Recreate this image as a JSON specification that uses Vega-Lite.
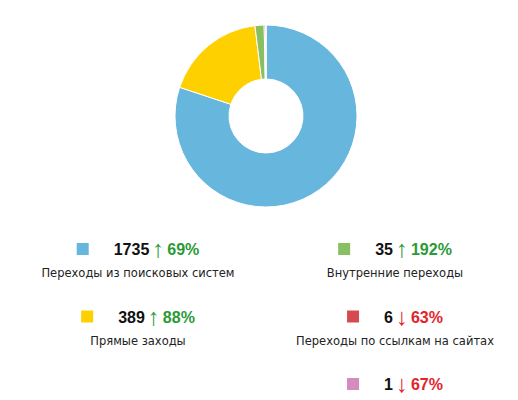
{
  "$schema": "https://vega.github.io/schema/vega-lite/v6.json",
  "padding": {"left": 14, "top": 0, "right": 0, "bottom": 0},
  "spacing": 0,
  "background": "#ffffff",
  "config": {"view": {"stroke": null}},
  "datasets": {
    "src": [
      {"name": "Переходы из поисковых систем", "value": 1735, "pct": "69%", "arrow": "↑", "trend": "up", "col": "L", "row": 1, "order": 1},
      {"name": "Прямые заходы", "value": 389, "pct": "88%", "arrow": "↑", "trend": "up", "col": "L", "row": 2, "order": 2},
      {"name": "Внутренние переходы", "value": 35, "pct": "192%", "arrow": "↑", "trend": "up", "col": "R", "row": 1, "order": 3},
      {"name": "Переходы по ссылкам на сайтах", "value": 6, "pct": "63%", "arrow": "↓", "trend": "down", "col": "R", "row": 2, "order": 4},
      {"name": "Прочее", "value": 1, "pct": "67%", "arrow": "↓", "trend": "down", "col": "R", "row": 3, "order": 5}
    ]
  },
  "vconcat": [
    {
      "width": 504,
      "height": 232,
      "data": {"name": "src"},
      "mark": {"type": "arc", "outerRadius": 91, "innerRadius": 37, "stroke": "#ffffff", "strokeWidth": 1},
      "encoding": {
        "theta": {"field": "value", "type": "quantitative", "stack": true},
        "order": {"field": "order", "type": "quantitative", "sort": "ascending"},
        "color": {
          "field": "name", "type": "nominal", "legend": null,
          "scale": {
            "domain": ["Переходы из поисковых систем", "Прямые заходы", "Внутренние переходы", "Переходы по ссылкам на сайтах", "Прочее"],
            "range": ["#66b6de", "#fed000", "#87bf62", "#d44a4e", "#d68bbd"]
          }
        }
      }
    },
    {
      "width": 504,
      "height": 168,
      "data": {"name": "src"},
      "transform": [
        {"calculate": "8.9*length(toString(datum.value))", "as": "numW"},
        {"calculate": "8.9*(length(datum.pct)-1)+14.2", "as": "pctW"},
        {"calculate": "(37 + datum.numW - datum.pctW)/2", "as": "ax"},
        {"calculate": "datum.ax - 40 - datum.numW", "as": "sqx"},
        {"calculate": "datum.ax - 9", "as": "nx"},
        {"calculate": "datum.ax + 9", "as": "px"}
      ],
      "encoding": {
        "x": {"field": "col", "type": "nominal", "axis": null, "scale": {"type": "point", "padding": 0, "domain": ["L", "R"], "range": [124, 381]}},
        "y": {"field": "row", "type": "ordinal", "axis": null, "scale": {"type": "point", "padding": 0, "domain": [1, 2, 3], "range": [17, 152]}}
      },
      "layer": [
        {
          "mark": {"type": "square", "size": 144, "filled": true, "opacity": 1},
          "encoding": {
            "xOffset": {"field": "sqx", "type": "quantitative", "scale": null},
            "color": {
              "field": "name", "type": "nominal", "legend": null,
              "scale": {
                "domain": ["Переходы из поисковых систем", "Прямые заходы", "Внутренние переходы", "Переходы по ссылкам на сайтах", "Прочее"],
                "range": ["#66b6de", "#fed000", "#87bf62", "#d44a4e", "#d68bbd"]
              }
            }
          }
        },
        {
          "mark": {"type": "text", "align": "right", "baseline": "middle", "dy": 1, "font": "Liberation Sans", "fontWeight": "bold", "fontSize": 16, "color": "#111111"},
          "encoding": {
            "xOffset": {"field": "nx", "type": "quantitative", "scale": null},
            "text": {"field": "value", "type": "nominal"}
          }
        },
        {
          "mark": {"type": "text", "align": "center", "baseline": "middle", "font": "Liberation Sans", "fontSize": 24, "dy": 1},
          "encoding": {
            "xOffset": {"field": "ax", "type": "quantitative", "scale": null},
            "text": {"field": "arrow", "type": "nominal"},
            "color": {"condition": {"test": "datum.trend === 'up'", "value": "#2a9a35"}, "value": "#e3232c"}
          }
        },
        {
          "mark": {"type": "text", "align": "left", "baseline": "middle", "dy": 1, "font": "Liberation Sans", "fontWeight": "bold", "fontSize": 16},
          "encoding": {
            "xOffset": {"field": "px", "type": "quantitative", "scale": null},
            "text": {"field": "pct", "type": "nominal"},
            "color": {"condition": {"test": "datum.trend === 'up'", "value": "#2a9a35"}, "value": "#e3232c"}
          }
        },
        {
          "transform": [{"filter": "datum.row < 3"}],
          "mark": {"type": "text", "align": "center", "baseline": "middle", "dy": 25, "font": "DejaVu Sans", "fontSize": 11.5, "color": "#222222"},
          "encoding": {
            "text": {"field": "name", "type": "nominal"}
          }
        }
      ]
    }
  ]
}
